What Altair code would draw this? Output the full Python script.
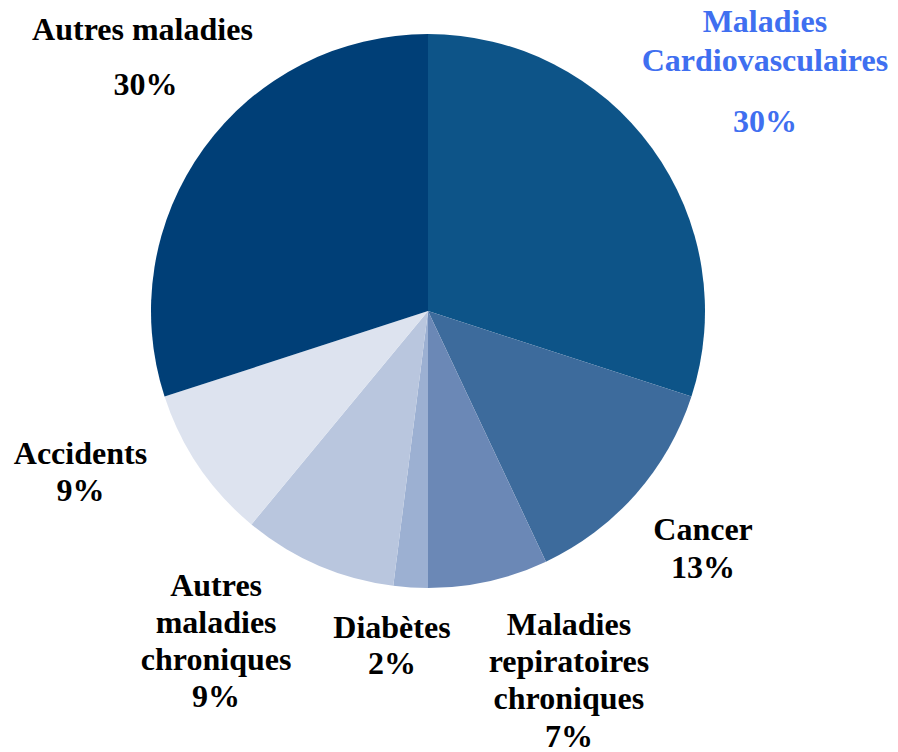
import math
import altair as alt
import pandas as pd

categories = ["Maladies Cardiovasculaires", "Cancer", "Maladies repiratoires chroniques",
              "Diabètes", "Autres maladies chroniques", "Accidents", "Autres maladies"]
values = [30, 13, 7, 2, 9, 9, 30]
label_names = ["Maladies\nCardiovasculaires", "Cancer", "Maladies\nrepiratoires\nchroniques",
               "Diabètes", "Autres\nmaladies\nchroniques", "Accidents", "Autres maladies"]
colors = ["#0d5488", "#3d6b9c", "#6b88b6", "#9cb0d2", "#b9c6de", "#dde3ef", "#003f77"]
text_colors = ["#3f6ff0", "#000000", "#000000", "#000000", "#000000", "#000000", "#000000"]

df = pd.DataFrame({
    "idx": list(range(len(categories))),
    "category": categories,
    "value": values,
    "name": label_names,
})

CX, CY, R = 420, 303, 277
FONT = "Liberation Serif"
FS = 32

base = alt.Chart(df)

pie = base.mark_arc(radius=R, stroke=None).encode(
    x=alt.value(CX), y=alt.value(CY),
    theta=alt.Theta("value:Q", stack=True),
    order=alt.Order("idx:Q"),
    color=alt.Color("category:N", scale=alt.Scale(domain=categories, range=colors), legend=None),
)

# label layout: radius, (dx, dy) of first name line, (dx, dy) of percentage, line height
layout = {
    0: (430, (-11, -36), (-11, 64), 39),
    1: (360, (5, -19), (5, 19), 37),
    2: (380, (58, -57), (58, 55), 37),
    3: (335, (-15, -17), (-15, 19), 37),
    4: (390, (-57, -83), (-57, 28), 37),
    5: (390, (-25, -76), (-25, -39), 37),
    6: (390, (30, -52), (33, 3), 37),
}

lab_base = base.transform_window(
    cum="sum(value)", sort=[alt.SortField("idx")], frame=[None, 0]
).transform_calculate(
    mid="datum.cum - datum.value / 2",
    pct="datum.value + '%'",
)

layers = [pie]
for i in range(len(categories)):
    r, (ndx, ndy), (pdx, pdy), lh = layout[i]
    sub = lab_base.transform_filter(alt.datum.idx == i)
    enc = dict(
        x=alt.value(CX), y=alt.value(CY),
        theta=alt.Theta("mid:Q", stack=None, scale=alt.Scale(domain=[0, 100])),
    )
    common = dict(radius=r, font=FONT, fontSize=FS, fontWeight="bold",
                  align="center", baseline="middle", color=text_colors[i],
                  lineBreak="\n", lineHeight=lh)
    layers.append(sub.mark_text(dx=ndx, dy=ndy, **common).encode(text="name:N", **enc))
    layers.append(sub.mark_text(dx=pdx, dy=pdy, **common).encode(text="pct:N", **enc))

chart = alt.layer(*layers).properties(
    width=882, height=744,
    autosize=alt.AutoSizeParams(type="none"),
    padding=0,
).configure_view(stroke=None)

chart.save("out.html", embed_options={"renderer": "svg", "actions": False})
